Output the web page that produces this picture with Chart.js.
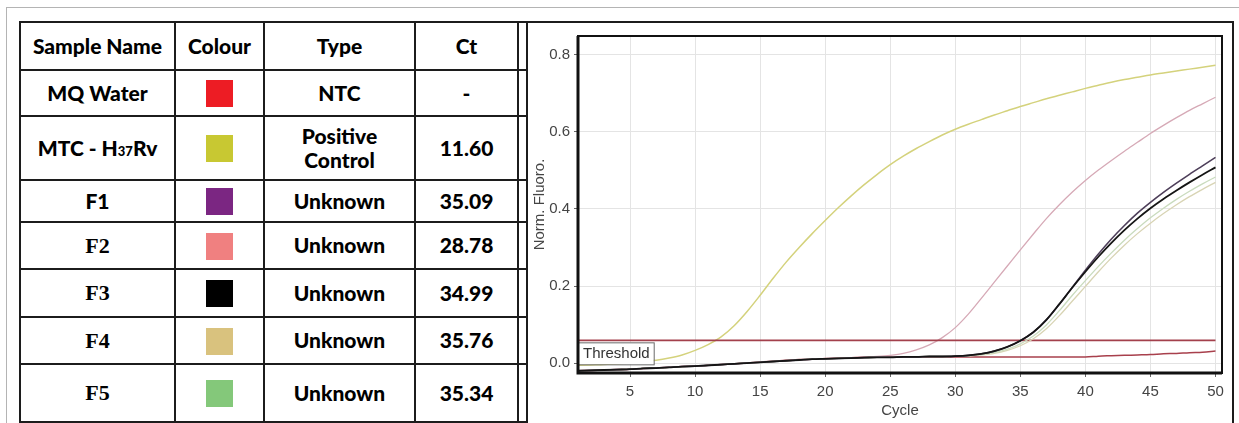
<!DOCTYPE html>
<html><head><meta charset="utf-8">
<script src="https://cdn.jsdelivr.net/npm/chart.js@4.4.1/dist/chart.umd.min.js"></script>
<style>
html,body{margin:0;padding:0;background:#fff;width:1239px;height:423px;overflow:hidden;}
#frame{position:absolute;left:6px;top:7px;width:1240px;height:420px;border-left:1px solid #b4b4b4;border-top:1px solid #b4b4b4;}
#tbl{position:absolute;left:19px;top:21px;border-collapse:collapse;table-layout:fixed;font-family:Lato,"Open Sans",sans-serif;}
#tbl td{border:2px solid #1c1c1c;text-align:center;vertical-align:middle;padding:0;font-weight:900;font-size:21px;color:#000;line-height:1.15;}
#tbl td.serif{font-family:"Liberation Serif","DejaVu Serif",serif;font-size:22px;font-weight:bold;}
#tbl .sw{display:inline-block;width:27px;height:27px;vertical-align:middle;}
#tbl .sm{font-size:13px;}
#panel{position:absolute;left:526px;top:21px;width:708px;height:404px;border:2px solid #1c1c1c;box-sizing:border-box;}
#cv{position:absolute;left:528px;top:23px;}
</style></head>
<body>
<div id="frame"></div>
<table id="tbl"></table>
<div id="panel"></div>
<canvas id="cv" width="703" height="398"></canvas>
<script>
// ---- table data ----
const headers = ["Sample Name", "Colour", "Type", "Ct"];
const sampleNames = ["MQ Water", "MTC - H37Rv", "F1", "F2", "F3", "F4", "F5"];
const sampleTypes = ["NTC", "Positive Control", "Unknown", "Unknown", "Unknown", "Unknown", "Unknown"];
const ctValues = ["-", "11.60", "35.09", "28.78", "34.99", "35.76", "35.34"];
const swatchColours = ["#ed1c24", "#c8c832", "#7b2682", "#f08080", "#000000", "#d9c27e", "#84c87a"];

// ---- chart data ----
const cycles = [1,2,3,4,5,6,7,8,9,10,11,12,13,14,15,16,17,18,19,20,21,22,23,24,25,26,27,28,29,30,31,32,33,34,35,36,37,38,39,40,41,42,43,44,45,46,47,48,49,50];
const xTicks = [5,10,15,20,25,30,35,40,45,50];
const yTicks = [0.0,0.2,0.4,0.6,0.8];
const threshold = 0.059;
const mqWater = [-0.020,-0.019,-0.018,-0.017,-0.016,-0.014,-0.013,-0.011,-0.009,-0.008,-0.006,-0.004,-0.002,0.000,0.003,0.005,0.007,0.009,0.010,0.012,0.013,0.014,0.015,0.015,0.016,0.016,0.016,0.016,0.016,0.016,0.016,0.016,0.016,0.016,0.016,0.016,0.016,0.016,0.016,0.016,0.018,0.019,0.020,0.021,0.022,0.024,0.025,0.027,0.028,0.031];
const mtcH37Rv = [-0.006,-0.005,-0.004,-0.002,0.000,0.003,0.007,0.013,0.021,0.033,0.048,0.068,0.097,0.134,0.176,0.220,0.262,0.300,0.336,0.370,0.403,0.434,0.463,0.490,0.515,0.537,0.557,0.575,0.592,0.607,0.620,0.632,0.644,0.655,0.666,0.676,0.686,0.695,0.704,0.713,0.721,0.729,0.736,0.742,0.748,0.753,0.758,0.763,0.768,0.773];
const f1 = [-0.020,-0.019,-0.018,-0.017,-0.016,-0.014,-0.013,-0.011,-0.009,-0.008,-0.006,-0.004,-0.002,0.000,0.002,0.004,0.006,0.008,0.010,0.011,0.012,0.013,0.014,0.015,0.015,0.016,0.016,0.017,0.017,0.018,0.020,0.024,0.031,0.042,0.058,0.080,0.112,0.153,0.197,0.241,0.283,0.322,0.357,0.389,0.417,0.443,0.467,0.490,0.512,0.534];
const f2 = [-0.020,-0.019,-0.018,-0.017,-0.016,-0.014,-0.013,-0.011,-0.009,-0.008,-0.006,-0.004,-0.002,0.000,0.002,0.004,0.006,0.008,0.010,0.011,0.012,0.013,0.015,0.017,0.020,0.025,0.034,0.047,0.066,0.092,0.127,0.168,0.210,0.252,0.294,0.335,0.375,0.411,0.444,0.474,0.501,0.526,0.550,0.573,0.596,0.617,0.637,0.656,0.673,0.690];
const f3 = [-0.020,-0.019,-0.018,-0.017,-0.016,-0.014,-0.013,-0.011,-0.009,-0.008,-0.006,-0.004,-0.002,0.000,0.002,0.004,0.006,0.008,0.010,0.011,0.012,0.013,0.014,0.015,0.015,0.016,0.016,0.017,0.017,0.018,0.020,0.024,0.031,0.042,0.058,0.080,0.112,0.153,0.196,0.237,0.276,0.312,0.345,0.375,0.402,0.426,0.448,0.469,0.489,0.508];
const f4 = [-0.020,-0.019,-0.018,-0.017,-0.016,-0.014,-0.013,-0.011,-0.009,-0.008,-0.006,-0.004,-0.002,0.000,0.002,0.004,0.006,0.008,0.010,0.011,0.012,0.013,0.014,0.015,0.015,0.016,0.016,0.017,0.017,0.018,0.019,0.021,0.025,0.033,0.045,0.063,0.089,0.123,0.161,0.199,0.237,0.273,0.306,0.336,0.363,0.388,0.411,0.432,0.451,0.469];
const f5 = [-0.020,-0.019,-0.018,-0.017,-0.016,-0.014,-0.013,-0.011,-0.009,-0.008,-0.006,-0.004,-0.002,0.000,0.002,0.004,0.006,0.008,0.010,0.011,0.012,0.013,0.014,0.015,0.015,0.016,0.016,0.017,0.017,0.018,0.019,0.022,0.027,0.036,0.050,0.070,0.099,0.136,0.176,0.214,0.251,0.286,0.319,0.349,0.377,0.402,0.425,0.446,0.465,0.483];

// ---- build table ----
const tbl = document.getElementById('tbl');
const colW = [155, 89, 151, 103, 9];
const rowH = [48, 46, 64, 42, 47, 48, 47, 58];
const cg = document.createElement('colgroup');
colW.forEach(w => { const c = document.createElement('col'); c.style.width = w + 'px'; cg.appendChild(c); });
tbl.appendChild(cg);
function addRow(cells, h) {
  const tr = document.createElement('tr'); tr.style.height = h + 'px';
  cells.forEach(c => tr.appendChild(c)); tbl.appendChild(tr);
}
function td(txt) { const d = document.createElement('td'); if (txt !== undefined) d.textContent = txt; return d; }
addRow([...headers.map(h => td(h)), td('')], rowH[0]);
sampleNames.forEach((n, i) => {
  const nameCell = td();
  const m = n.match(/^(.*H)(\d+)(.*)$/);
  if (m) {
    nameCell.appendChild(document.createTextNode(m[1]));
    const s = document.createElement('span'); s.className = 'sm'; s.textContent = m[2]; nameCell.appendChild(s);
    nameCell.appendChild(document.createTextNode(m[3]));
  } else nameCell.textContent = n;
  if (/^F[2-5]$/.test(n)) nameCell.className = 'serif';
  const swCell = td(); const sw = document.createElement('span'); sw.className = 'sw'; sw.style.background = swatchColours[i]; swCell.appendChild(sw);
  const typeCell = td();
  if (sampleTypes[i] === 'Positive Control') { typeCell.innerHTML = 'Positive<br>Control'; } else typeCell.textContent = sampleTypes[i];
  addRow([nameCell, swCell, typeCell, td(ctValues[i]), td('')], rowH[i + 1]);
});

// ---- chart ----
const toXY = vals => cycles.map((c, i) => ({ x: c, y: vals[i] }));
const series = [
  { label: sampleNames[0], vals: mqWater, color: '#a8404c', w: 1.5, order: 6 },
  { label: sampleNames[1], vals: mtcH37Rv, color: '#d4d27c', w: 1.5, order: 7 },
  { label: sampleNames[2], vals: f1, color: '#4e3f5a', w: 1.6, order: 1 },
  { label: sampleNames[3], vals: f2, color: '#d6a9b6', w: 1.3, order: 5 },
  { label: sampleNames[4], vals: f3, color: '#151515', w: 1.8, order: 0 },
  { label: sampleNames[5], vals: f4, color: '#d8d4b4', w: 1.3, order: 3 },
  { label: sampleNames[6], vals: f5, color: '#c9dbbd', w: 1.3, order: 2 }
];
const datasets = series.map(s => ({
  label: s.label, data: toXY(s.vals), borderColor: s.color, borderWidth: s.w,
  pointRadius: 0, fill: false, cubicInterpolationMode: 'monotone', order: s.order
}));
datasets.push({ label: 'Threshold', data: [{ x: cycles[0], y: threshold }, { x: cycles[cycles.length - 1], y: threshold }],
  borderColor: '#a3404c', borderWidth: 1.6, pointRadius: 0, fill: false, order: 4 });

const font = { family: '"Liberation Sans", Arial, sans-serif', size: 15 };
const framePlugin = {
  id: 'framePlugin',
  afterDatasetsDraw(chart) {
    const { ctx, chartArea: a, scales } = chart;
    ctx.save();
    const ty = scales.y.getPixelForValue(threshold);
    ctx.font = '15px "Liberation Sans", Arial, sans-serif';
    const tw = ctx.measureText('Threshold').width;
    ctx.fillStyle = '#ffffff';
    ctx.fillRect(a.left, ty + 2, tw + 9, 22);
    ctx.strokeStyle = '#6a6a6a'; ctx.lineWidth = 1;
    ctx.strokeRect(a.left + 0.5, ty + 2.5, tw + 9, 22);
    ctx.fillStyle = '#333'; ctx.textBaseline = 'middle'; ctx.textAlign = 'left';
    ctx.fillText('Threshold', a.left + 5, ty + 14);
    ctx.strokeStyle = '#111';
    ctx.lineWidth = 2;
    ctx.strokeRect(a.left, a.top, a.right - a.left, a.bottom - a.top);
    ctx.lineWidth = 3;
    ctx.beginPath(); ctx.moveTo(a.left, a.top); ctx.lineTo(a.left, a.bottom); ctx.lineTo(a.right, a.bottom); ctx.stroke();
    ctx.restore();
  }
};

new Chart(document.getElementById('cv'), {
  type: 'line',
  data: { datasets },
  options: {
    responsive: false, animation: false, devicePixelRatio: 1,
    layout: { padding: { top: 11, right: 9, left: 0, bottom: 0 } },
    plugins: { legend: { display: false }, tooltip: { enabled: false } },
    scales: {
      x: {
        type: 'linear', min: 1, max: 50.5,
        afterBuildTicks: s => { s.ticks = xTicks.map(v => ({ value: v })); },
        afterFit: s => { s.height = 48; },
        grid: { color: '#e4e4e4', tickColor: '#666', tickLength: 4, drawTicks: true },
        border: { display: false },
        ticks: { font, color: '#444', padding: 6, maxRotation: 0, callback: v => String(v) },
        title: { display: true, text: 'Cycle', font, color: '#444', padding: { top: 0, bottom: 1 } }
      },
      y: {
        type: 'linear', min: -0.0258, max: 0.849,
        afterBuildTicks: s => { s.ticks = yTicks.map(v => ({ value: v })); },
        afterFit: s => { s.width = 50; },
        grid: { color: '#e4e4e4', tickColor: '#666', tickLength: 4, drawTicks: true },
        border: { display: false },
        ticks: { font, color: '#444', padding: 4, callback: v => Number(v).toFixed(1) },
        title: { display: true, text: 'Norm. Fluoro.', font, color: '#444', padding: { top: 3, bottom: 0 } }
      }
    }
  },
  plugins: [framePlugin]
});
</script>
</body></html>
